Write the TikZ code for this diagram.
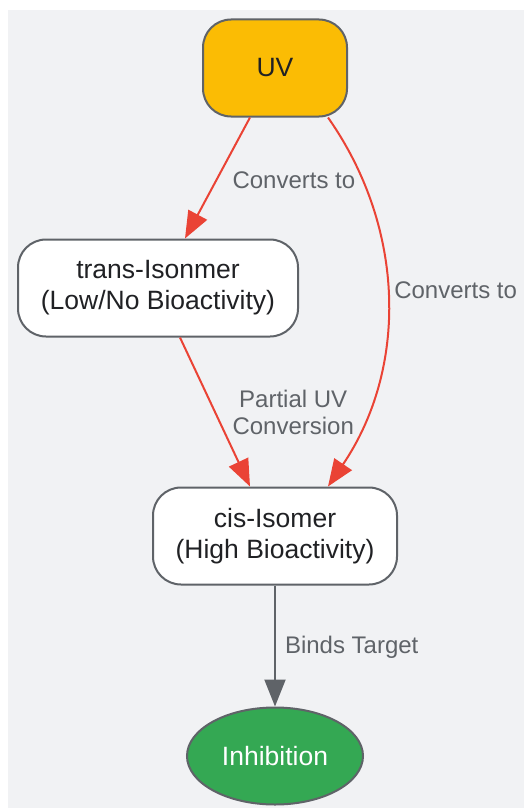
\documentclass[tikz,border=0pt]{standalone}
\usepackage{fontspec}
\setmainfont{Liberation Sans}
\usetikzlibrary{arrows.meta,shapes.geometric}
\definecolor{bgpanel}{HTML}{F1F2F4}
\definecolor{edgegray}{HTML}{5F6368}
\definecolor{uvyellow}{HTML}{FBBC04}
\definecolor{okgreen}{HTML}{34A853}
\definecolor{convred}{HTML}{EA4335}
\definecolor{inktext}{HTML}{202124}
\begin{document}
\begin{tikzpicture}[x=1pt,y=-1pt,
    statebox/.style={rectangle, rounded corners=28pt, draw=edgegray, line width=2pt,
      fill=white, minimum height=97pt, align=center, text=inktext,
      font=\fontsize{26.5}{31}\selectfont},
    convarrow/.style={draw=convred, line width=2pt, -{Triangle[length=27pt,width=21pt]}},
    bindarrow/.style={draw=edgegray, line width=2pt, -{Triangle[length=27pt,width=21pt]}},
    edgelabel/.style={text=edgegray, align=center, inner sep=0pt,
      font=\fontsize{24}{27}\selectfont}]
  \useasboundingbox (0,0) rectangle (524,808);
  \fill[bgpanel] (8,10) rectangle (524,808);

  % states
  \node[statebox, fill=uvyellow, minimum width=144pt] (uv) at (275,68) {UV};
  \node[statebox, minimum width=280pt] (trans) at (158,288) {trans-Isonmer\\(Low/No Bioactivity)};
  \node[statebox, minimum width=244pt] (cis) at (275,536) {cis-Isomer\\(High Bioactivity)};
  \node[ellipse, draw=edgegray, line width=2pt, fill=okgreen, text=white,
    minimum width=176pt, minimum height=97pt, font=\fontsize{26.5}{31}\selectfont]
    (inhib) at (275,756) {Inhibition};

  % transitions
  \draw[convarrow] ([xshift=-25pt]uv.south) -- ([xshift=27pt]trans.north)
    node[edgelabel, midway, right=14pt, yshift=-2.5pt] (conva) {Converts to};
  \draw[convarrow] ([xshift=-20pt]uv.south east) .. controls (407,230) and (407,370) .. ([xshift=53pt]cis.north)
    node[edgelabel, pos=0.5, right=6pt, yshift=10pt] (convb) {Converts to};
  \draw[convarrow] ([xshift=22pt]trans.south) -- ([xshift=-25pt]cis.north)
    node[edgelabel, midway, right=16.5pt] (partial) {Partial UV\\Conversion};
  \draw[bindarrow] (cis.south) -- (inhib.north)
    node[edgelabel, midway, right=9pt, yshift=-1.5pt] (binds) {Binds Target};
\end{tikzpicture}
\end{document}
